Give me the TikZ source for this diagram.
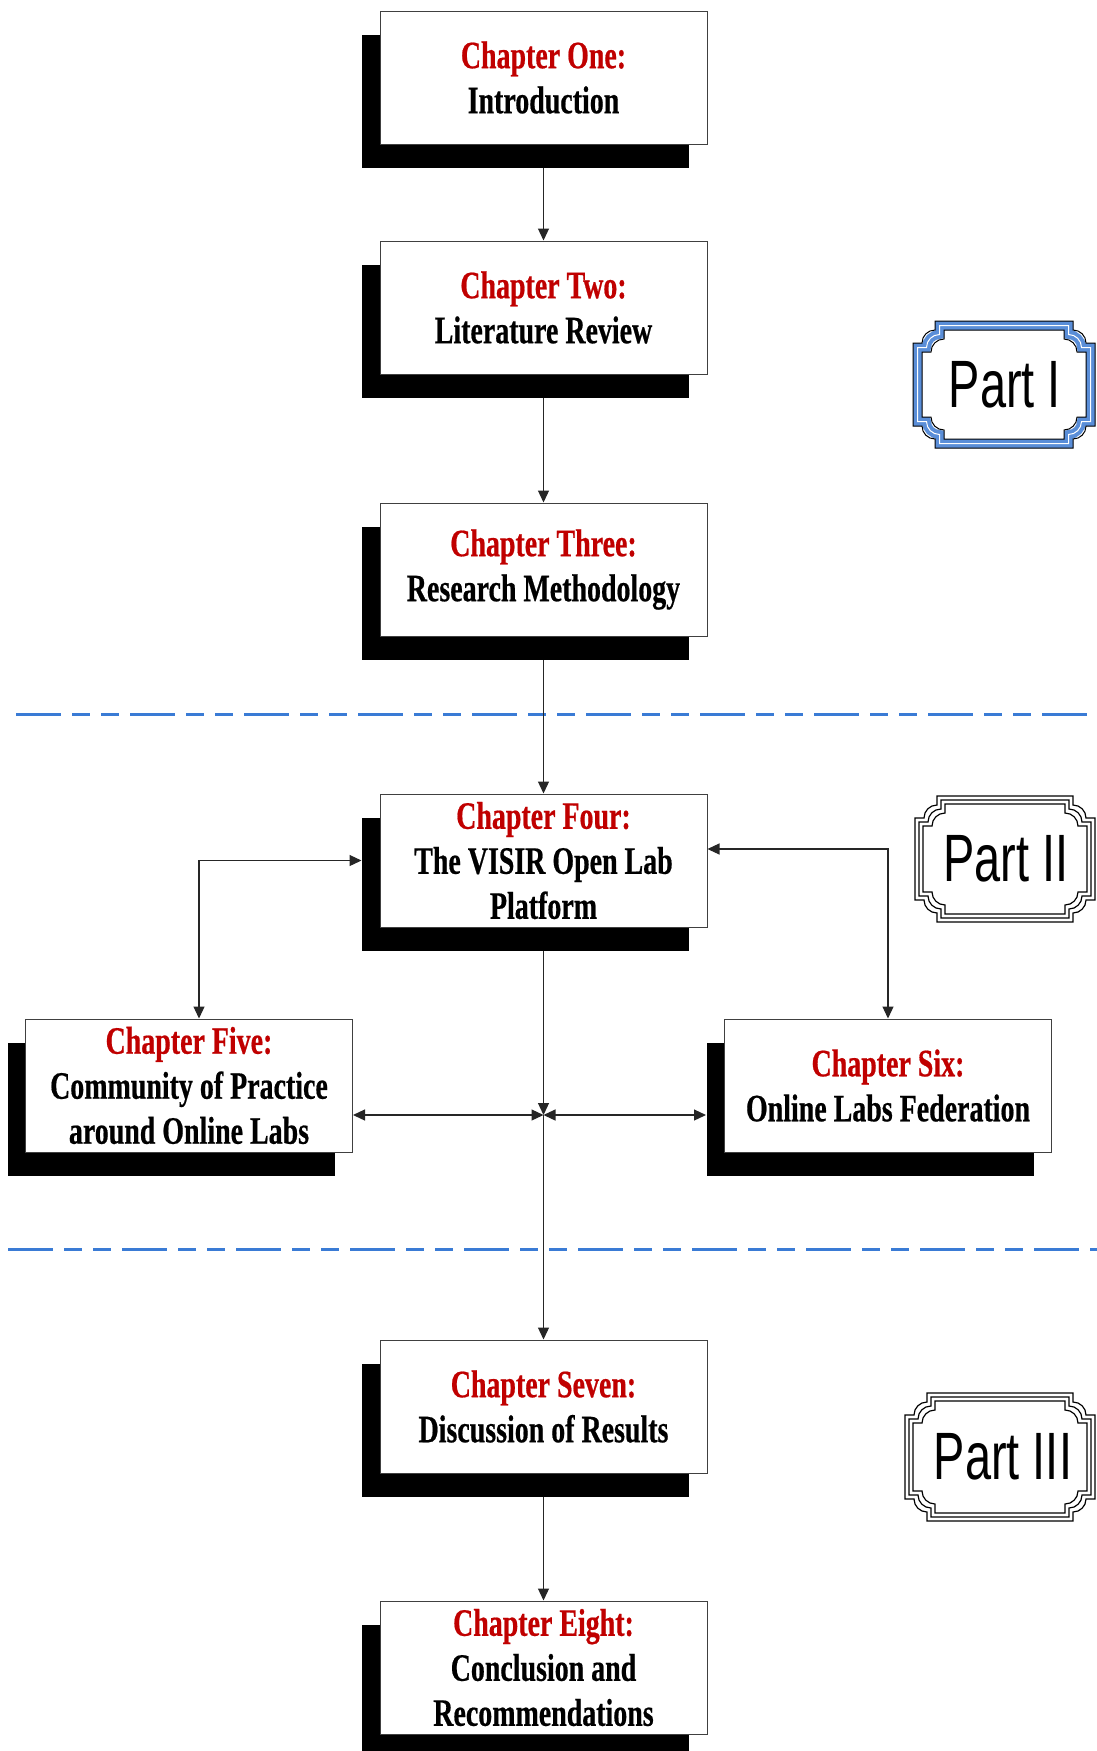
\documentclass[tikz,border=0pt]{standalone}
\usepackage{fontspec}
\usetikzlibrary{arrows.meta,shadows,backgrounds}
\newfontfamily\chfont[FakeStretch=0.72,FakeBold=0.5]{Liberation Serif Bold}
\newfontfamily\partfont[FakeStretch=0.7]{Liberation Sans}
\definecolor{chred}{HTML}{C00000}
\definecolor{sepblue}{HTML}{3A7BD5}
\definecolor{partblue}{HTML}{5A8ED8}

% Plaque frame with stepped, rounded corners: x0, y0, x1, y1, inset, style
\newcommand\plaque[6]{%
  \draw[#6] (#1+#5,#2+22+#5) -- (#1+9+#5,#2+22+#5)
    arc[start angle=180,end angle=270,radius=13] -- (#1+22+#5,#2+#5)
    -- (#3-22-#5,#2+#5) -- (#3-22-#5,#2+9+#5)
    arc[start angle=270,end angle=360,radius=13] -- (#3-#5,#2+22+#5)
    -- (#3-#5,#4-22-#5) -- (#3-9-#5,#4-22-#5)
    arc[start angle=0,end angle=90,radius=13] -- (#3-22-#5,#4-#5)
    -- (#1+22+#5,#4-#5) -- (#1+22+#5,#4-9-#5)
    arc[start angle=90,end angle=180,radius=13] -- (#1+#5,#4-22-#5) -- cycle;}

\tikzset{
  chbox/.style={draw=black!75, line width=0.5pt, fill=white,
    minimum width=163.5pt, minimum height=66.5pt, inner sep=0pt,
    align=center, font=\chfont\fontsize{19.4}{22.5}\selectfont,
    drop shadow={shadow xshift=-9pt, shadow yshift=-12pt, fill=black, opacity=1}},
  conn/.style={draw=black!85, line width=0.6pt},
  >={Triangle[length=6pt,width=5.5pt]},
  sep/.style={draw=sepblue, line width=1.5pt,
    dash pattern=on 22.5pt off 5.5pt on 9pt off 5.5pt on 9pt off 5.5pt},
  parttext/.style={font=\partfont\fontsize{33.5}{40}\selectfont, inner sep=0pt}
}

\begin{document}
\begin{tikzpicture}[x=0.5pt,y=-0.5pt]
\useasboundingbox (0,0) rectangle (1097,1751);

% chapters
\node[chbox] (c1) at (543.5,77.5) {\textcolor{chred}{Chapter One:}\\Introduction};
\node[chbox] (c2) at (543.5,307.5) {\textcolor{chred}{Chapter Two:}\\Literature Review};
\node[chbox] (c3) at (543.5,569.5) {\textcolor{chred}{Chapter Three:}\\Research Methodology};
\node[chbox] (c4) at (543.5,860.5) {\textcolor{chred}{Chapter Four:}\\The VISIR Open Lab\\Platform};
\node[chbox] (c5) at (189,1085.5) {\textcolor{chred}{Chapter Five:}\\Community of Practice\\around Online Labs};
\node[chbox] (c6) at (888,1085.5) {\textcolor{chred}{Chapter Six:}\\Online Labs Federation};
\node[chbox] (c7) at (543.5,1406.5) {\textcolor{chred}{Chapter Seven:}\\Discussion of Results};
\node[chbox] (c8) at (543.5,1667.5) {\textcolor{chred}{Chapter Eight:}\\Conclusion and\\Recommendations};

\begin{scope}[on background layer]
  \fill[white] (0,0) rectangle (1097,1751);
  % part separators
  \draw[sep] (16,714) -- (1097,714);
  \draw[sep] (8,1249) -- (1097,1249);
  % connectors, running behind the boxes and their shadows
  \draw[conn,->] (c1.south) -- (c2.north);
  \draw[conn,->] (c2.south) -- (c3.north);
  \draw[conn,->] (c3.south) -- (c4.north);
  \coordinate (j) at (543.5,1115);
  \coordinate (s4l) at ([xshift=-9pt]c4.west);
  \coordinate (l5) at ([xshift=5pt]c5.north);
  \coordinate (r4) at ([yshift=5.75pt]c4.east);
  \coordinate (s6) at ([xshift=-9pt]c6.west);
  \draw[conn,<->] (s4l) -| (l5);
  \draw[conn,<->] (r4) -| (c6.north);
  \draw[conn,->] (c4.south) -- (j);
  \draw[conn,->] (j) -- (c7.north);
  \draw[conn,<->] (c5.east |- j) -- (j);
  \draw[conn,<->] (s6 |- j) -- (j);
  \draw[conn,->] (c7.south) -- (c8.north);
\end{scope}

% Part I frame
\plaque{913}{321}{1095}{448}{4.5}{partblue, line width=4.5pt}
\plaque{913}{321}{1095}{448}{4.5}{white, line width=0.5pt}
\plaque{913}{321}{1095}{448}{0}{black, line width=0.5pt}
\plaque{913}{321}{1095}{448}{9}{black, line width=0.5pt}
\node[parttext] (p1) at (1005,384.5) {Part I};

% Part II frame
\plaque{915}{796}{1095}{922}{0}{black, line width=0.6pt}
\plaque{915}{796}{1095}{922}{4}{black, line width=0.6pt}
\plaque{915}{796}{1095}{922}{8}{black, line width=0.6pt}
\node[parttext] (p2) at (1006,859) {Part II};

% Part III frame
\plaque{905}{1393}{1095}{1521}{0}{black, line width=0.6pt}
\plaque{905}{1393}{1095}{1521}{4}{black, line width=0.6pt}
\plaque{905}{1393}{1095}{1521}{8}{black, line width=0.6pt}
\node[parttext] (p3) at (1003,1457) {Part III};
\end{tikzpicture}
\end{document}
